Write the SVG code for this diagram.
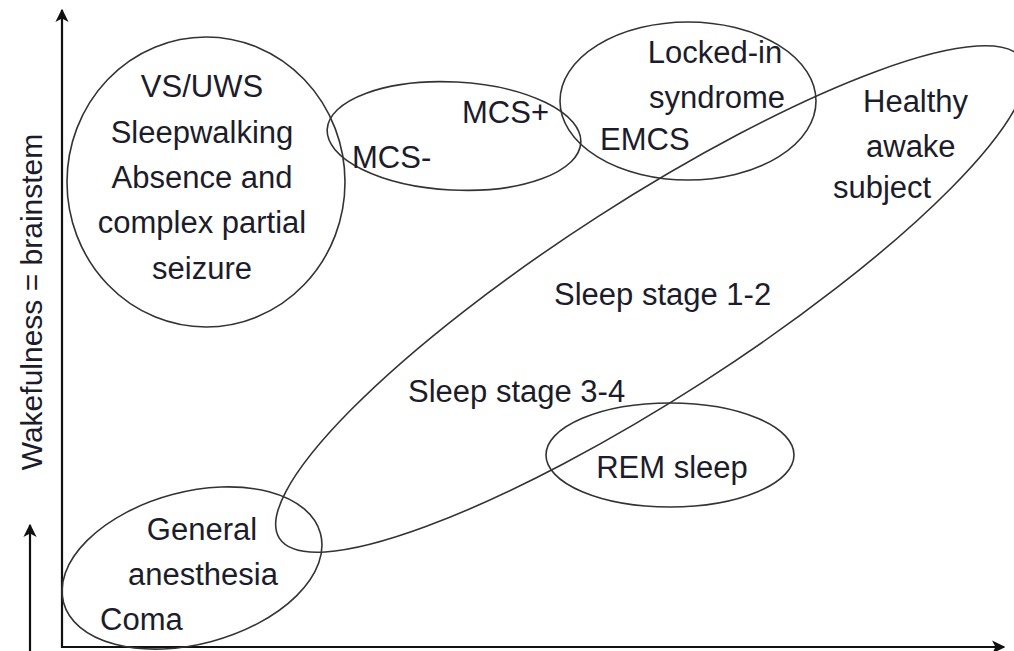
<svg xmlns="http://www.w3.org/2000/svg" width="1014" height="651" viewBox="0 0 1014 651">
  <defs>
    <marker id="head" viewBox="0 0 10 10" refX="9" refY="5" markerWidth="6" markerHeight="6" markerUnits="strokeWidth" orient="auto">
      <path d="M0,0 L10,5 L0,10 L2.5,5 Z" fill="#111"/>
    </marker>
    <style>
      .lbl { font-family: "Liberation Sans", Arial, sans-serif; font-size: 31px; fill: #1c1c2a; }
      .axis-lbl { font-size: 30px; }
      .mid { text-anchor: middle; }
      .ring { fill: none; stroke: #333; stroke-width: 1.6; }
      .axis { fill: none; stroke: #111; stroke-width: 2.2; }
    </style>
  </defs>

  <rect width="1014" height="651" fill="#fff"/>

  <!-- axes and the wakefulness indicator -->
  <g id="connectors">
    <line class="axis" x1="62" y1="648" x2="62" y2="10" marker-end="url(#head)"/>
    <line class="axis" x1="61" y1="647" x2="1004" y2="647" marker-end="url(#head)"/>
    <line class="axis" x1="30" y1="651" x2="30" y2="525" marker-end="url(#head)"/>
  </g>

  <text class="lbl axis-lbl mid" transform="translate(42,302) rotate(-90)">Wakefulness = brainstem</text>

  <!-- regions -->
  <g id="vs-uws">
    <ellipse class="ring" cx="206" cy="182" rx="139" ry="145"/>
    <text class="lbl mid" x="202" y="97">VS/UWS</text>
    <text class="lbl mid" x="202" y="143">Sleepwalking</text>
    <text class="lbl mid" x="202" y="188">Absence and</text>
    <text class="lbl mid" x="202" y="233">complex partial</text>
    <text class="lbl mid" x="202" y="279">seizure</text>
  </g>

  <g id="mcs">
    <ellipse class="ring" cx="454" cy="136" rx="127" ry="54" transform="rotate(3 454 136)"/>
    <text class="lbl" x="462" y="123">MCS+</text>
    <text class="lbl" x="352" y="168">MCS-</text>
  </g>

  <g id="locked-in">
    <ellipse class="ring" cx="688" cy="101" rx="128" ry="79"/>
    <text class="lbl mid" x="715" y="63">Locked-in</text>
    <text class="lbl mid" x="717" y="108">syndrome</text>
    <text class="lbl" x="600" y="150">EMCS</text>
  </g>

  <g id="sleep">
    <ellipse class="ring" cx="651" cy="299" rx="442" ry="98" transform="rotate(-32.8 651 299)"/>
    <text class="lbl" x="863" y="112">Healthy</text>
    <text class="lbl" x="866" y="157">awake</text>
    <text class="lbl" x="833" y="198">subject</text>
    <text class="lbl" x="554" y="305">Sleep stage 1-2</text>
    <text class="lbl" x="408" y="402">Sleep stage 3-4</text>
  </g>

  <g id="rem">
    <ellipse class="ring" cx="670" cy="455" rx="124" ry="52"/>
    <text class="lbl mid" x="672" y="478">REM sleep</text>
  </g>

  <g id="anesthesia">
    <ellipse class="ring" cx="192" cy="568" rx="133" ry="76" transform="rotate(-15 192 568)"/>
    <text class="lbl mid" x="202" y="540">General</text>
    <text class="lbl mid" x="203" y="585">anesthesia</text>
    <text class="lbl" x="100" y="630">Coma</text>
  </g>
</svg>
